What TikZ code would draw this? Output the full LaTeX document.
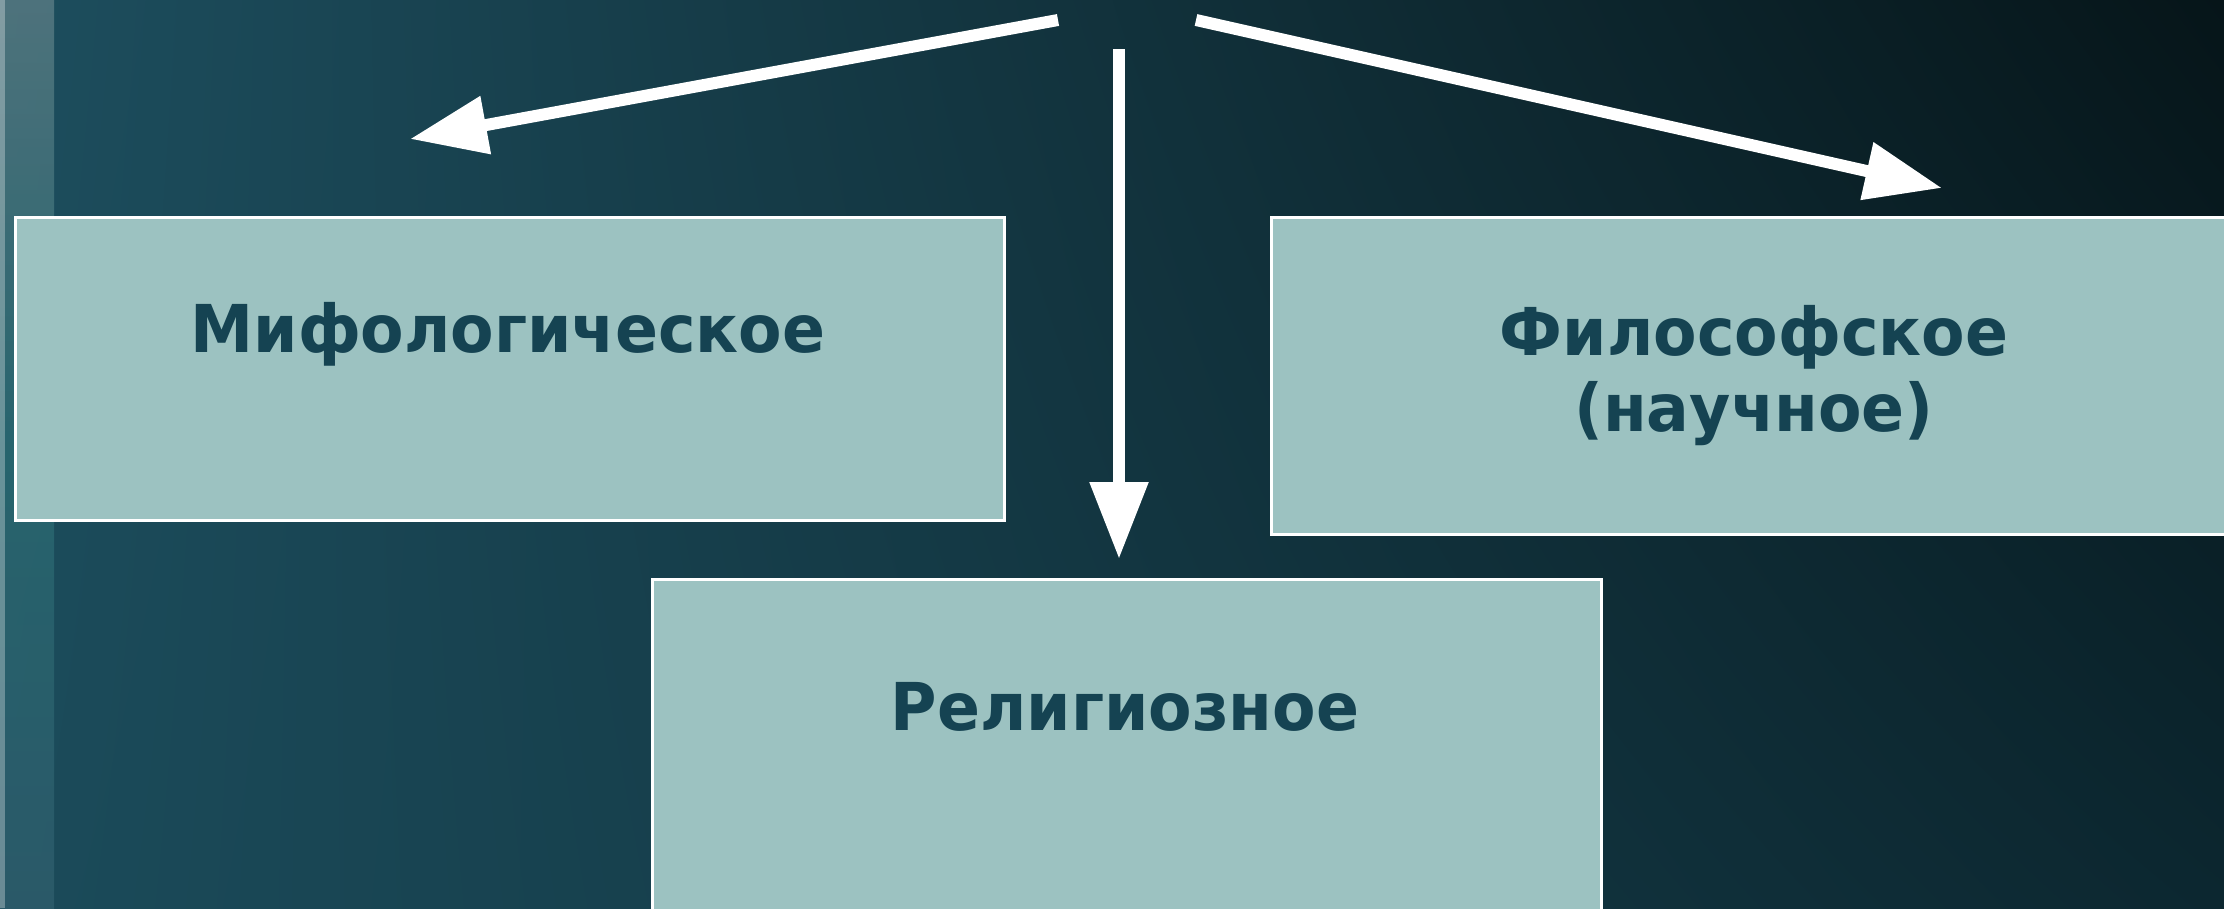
\documentclass[tikz,border=0pt]{standalone}
\usepackage{fontspec}
\setmainfont{DejaVu Sans}
\usetikzlibrary{arrows.meta,shadings}
\definecolor{boxfill}{HTML}{9CC2C1}
\definecolor{boxtext}{HTML}{154352}
\definecolor{bgUL}{HTML}{1D4E5E}
\definecolor{bgUR}{HTML}{061519}
\definecolor{bgLL}{HTML}{1B4B5A}
\definecolor{bgLR}{HTML}{0C2730}
\definecolor{stripA}{HTML}{5A7C84}
\definecolor{stripB}{HTML}{2A6A72}
\definecolor{stripC}{HTML}{2E5D6C}
\newfontfamily\labelfont[FakeStretch=0.96]{DejaVu Sans Bold}
\tikzset{
  box/.style={draw=white, line width=2.5pt, fill=boxfill, rectangle, inner sep=0pt},
  boxlabel/.style={font=\fontsize{66}{76}\selectfont\labelfont, text=boxtext, align=center, inner sep=0pt, anchor=base},
  bigarrow/.style={draw=white, line width=12pt, -{Triangle[length=77pt,width=56pt]}}
}
\begin{document}
\begin{tikzpicture}[x=1pt,y=-1pt]
\useasboundingbox (0,0) rectangle (2224,908);
% background
\shade[upper left=bgUL, upper right=bgUR, lower left=bgLL, lower right=bgLR] (0,0) rectangle (2224,908);
% left textured strip
\shade[top color=stripA, bottom color=stripC, middle color=stripB, opacity=0.8] (0,0) rectangle (54,908);
\fill[white, opacity=0.3] (0,0) rectangle (5,908);
% boxes
\node[box, minimum width=989pt, minimum height=303pt, anchor=north west] (mif) at (14,216) {};
\node[box, minimum width=980pt, minimum height=317pt, anchor=north west] (phil) at (1270,216) {};
\node[box, minimum width=949pt, minimum height=360pt, anchor=north west] (rel) at (651,578) {};
% labels
\node[boxlabel] (mift) at (508,352) {Мифологическое};
\node[boxlabel, anchor=north] (philt) at (1754,305) {Философское\\(научное)};
\node[boxlabel] (relt) at (1125,730) {Религиозное};
% arrows
\coordinate (srcL) at (1058,20);
\coordinate (srcM) at (1119,49);
\coordinate (srcR) at (1196,20);
\coordinate (tipL) at (410,139);
\coordinate (tipM) at (1119,559);
\coordinate (tipR) at (1942,188);
\draw[bigarrow] (srcL) -- (tipL);
\draw[bigarrow] (srcM) -- (tipM);
\draw[bigarrow] (srcR) -- (tipR);
\end{tikzpicture}
\end{document}
